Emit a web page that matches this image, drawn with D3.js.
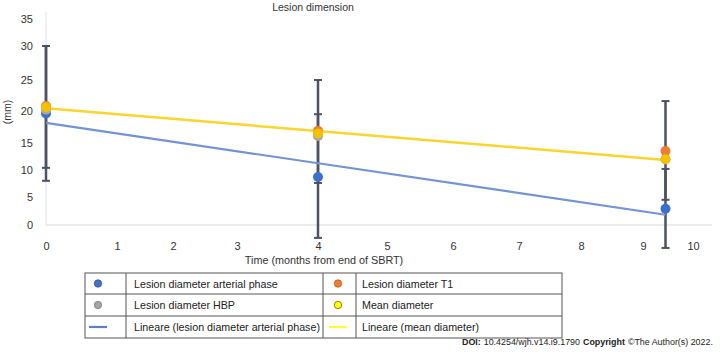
<!DOCTYPE html>
<html><head><meta charset="utf-8">
<script src="https://cdn.jsdelivr.net/npm/d3@7/dist/d3.min.js"></script>
<style>
body{margin:0;background:#fff;}
text{font-family:"Liberation Sans",Arial,sans-serif;}
</style></head>
<body>
<svg id="chart" width="720" height="357"></svg>
<script>
// ---- data ----
const months = [0, 4, 9.45];
const arterial = [19.6, 8.7, 2.9];
const t1 = [20.8, 16.9, 13.5];
const hbp = [20.2, 16.1, 12.0];
const meanDiam = [20.6, 16.5, 12.0];
const arterialErrLow = [8.0, -2.3, -4.1];
const arterialErrHigh = [30.0, 19.5, 10.2];
const t1ErrLow = [10.4, 7.6, 4.5];
const t1ErrHigh = [30.0, 25.0, 21.6];
const xTicks = [0,1,2,3,4,5,6,7,8,9,10];
const yTicks = [0,5,10,15,20,25,30,35];
const legendItems = [
  ["Lesion diameter arterial phase","dot","#4472c4","#2f5597"],
  ["Lesion diameter T1","dot","#ed7d31","#c55a11"],
  ["Lesion diameter HBP","dot","#a5a5a5","#7f7f7f"],
  ["Mean diameter","dot","#ffff00","#7f6000"],
  ["Lineare (lesion diameter arterial phase)","line","#5b7fcc"],
  ["Lineare (mean diameter)","line","#ffff33"]
];
const doiParts = [["DOI:","bold"],["10.4254/wjh.v14.i9.1790","normal"],["Copyright","bold"],["©The Author(s) 2022.","normal"]];

const svg = d3.select("#chart");
const x = d3.scaleLinear().domain(xTicks).range([46,117,173,237,318,387,453,519,581,643,693]);
const y = d3.scaleLinear().domain(yTicks).range([225,197,170,143,111,80,46,19]);

// title
svg.append("text").attr("x",313).attr("y",11).attr("text-anchor","middle")
  .attr("font-size",10.5).attr("fill","#333").text("Lesion dimension");

// axes lines
svg.append("line").attr("x1",46).attr("x2",46).attr("y1",12).attr("y2",y(0))
  .attr("stroke","#dfe4ee").attr("stroke-width",1.2);
svg.append("line").attr("x1",46).attr("x2",712).attr("y1",y(0)).attr("y2",y(0))
  .attr("stroke","#d9d9d9").attr("stroke-width",1);

const xa = svg.append("g").attr("transform",`translate(0,${y(0)})`)
  .call(d3.axisBottom(x).tickValues(xTicks).tickSize(0).tickPadding(17).tickFormat(d3.format("d")));
xa.select(".domain").remove();
xa.selectAll("text").attr("font-size",11).attr("fill","#333").style("font-family","Liberation Sans, Arial, sans-serif");

const ya = svg.append("g").attr("transform","translate(33,0)")
  .call(d3.axisLeft(y).tickValues(yTicks).tickSize(0).tickPadding(0));
ya.select(".domain").remove();
ya.selectAll("text").attr("font-size",11).attr("fill","#333").style("font-family","Liberation Sans, Arial, sans-serif");

svg.append("text").attr("transform","translate(11,112) rotate(-90)").attr("text-anchor","middle")
  .attr("font-size",10.5).attr("fill","#333").text("(mm)");
svg.append("text").attr("x",324).attr("y",264).attr("text-anchor","middle")
  .attr("font-size",10.8).attr("fill","#333").text("Time (months from end of SBRT)");

// error bars
function errBars(lo, hi){
  const g = svg.append("g").attr("stroke","#4d535e");
  months.forEach((m,i)=>{
    g.append("line").attr("x1",x(m)).attr("x2",x(m)).attr("y1",y(lo[i])).attr("y2",y(hi[i])).attr("stroke-width",2.5);
    [lo[i],hi[i]].forEach(v=>{
      g.append("line").attr("x1",x(m)-4).attr("x2",x(m)+4).attr("y1",y(v)).attr("y2",y(v)).attr("stroke-width",2);
    });
  });
}
errBars(arterialErrLow, arterialErrHigh);
errBars(t1ErrLow, t1ErrHigh);

// trend lines (least squares)
function trend(vals){
  const mx = d3.mean(months), my = d3.mean(vals);
  let sxy=0,sxx=0;
  months.forEach((m,i)=>{sxy+=(m-mx)*(vals[i]-my); sxx+=(m-mx)*(m-mx);});
  const b = sxy/sxx, a = my-b*mx;
  const x0 = d3.min(months), x1 = d3.max(months);
  return [[x0,a+b*x0],[x1,a+b*x1]];
}
const lineGen = d3.line().x(d=>x(d[0])).y(d=>y(d[1]));
svg.append("path").attr("d",lineGen(trend(arterial))).attr("fill","none")
  .attr("stroke","#7393d3").attr("stroke-width",2.2);
svg.append("path").attr("d",lineGen(trend(meanDiam))).attr("fill","none")
  .attr("stroke","#f9d52e").attr("stroke-width",2.5);

// points
function pts(vals,color){
  svg.append("g").selectAll("circle").data(vals).join("circle")
    .attr("cx",(d,i)=>x(months[i])).attr("cy",d=>y(d)).attr("r",5).attr("fill",color);
}
pts(arterial,"#3d6fcf");
pts(t1,"#ed7d31");
pts(hbp,"#a5a5a5");
pts(meanDiam,"#f5c000");

// legend table
const colX = [85,126,323,356,562];
const rowY = [273,294,316,338];
const lg = svg.append("g");
lg.append("rect").attr("x",colX[0]).attr("y",rowY[0]).attr("width",colX[4]-colX[0]).attr("height",rowY[3]-rowY[0])
  .attr("fill","none").attr("stroke","#555").attr("stroke-width",1);
[1,2,3].forEach(c=>lg.append("line").attr("x1",colX[c]).attr("x2",colX[c]).attr("y1",rowY[0]).attr("y2",rowY[3]).attr("stroke","#555"));
[1,2].forEach(r=>lg.append("line").attr("x1",colX[0]).attr("x2",colX[4]).attr("y1",rowY[r]).attr("y2",rowY[r]).attr("stroke","#555"));
legendItems.forEach((it,i)=>{
  const r = Math.floor(i/2), c = i%2;
  const cy = (rowY[r]+rowY[r+1])/2;
  const mx = c===0 ? 98 : 338;
  if(it[1]==="dot"){
    lg.append("circle").attr("cx",mx).attr("cy",cy).attr("r",3.7).attr("fill",it[2]).attr("stroke",it[3]).attr("stroke-width",0.8);
  } else {
    lg.append("line").attr("x1",mx-9).attr("x2",mx+9).attr("y1",cy).attr("y2",cy).attr("stroke",it[2]).attr("stroke-width",2.2);
  }
  lg.append("text").attr("x", c===0 ? 134 : 362).attr("y",cy+4).attr("font-size",10.7).attr("fill","#222").text(it[0]);
});

// DOI line: separate texts laid out one after another, sized to fit 462..713
const doiStart = 462, doiEnd = 713, gap = 3;
const doiTexts = doiParts.map(p => svg.append("text").attr("y",345).attr("font-size",10)
    .attr("font-weight",p[1]).attr("fill","#222").text(p[0]));
const natural = d3.sum(doiTexts, t => t.node().getComputedTextLength());
const fs = 10 * (doiEnd - doiStart - gap*(doiParts.length-1)) / natural;
let cx = doiStart;
doiTexts.forEach(t=>{
  t.attr("font-size",fs).attr("x",cx);
  cx += t.node().getComputedTextLength() + gap;
});
</script>
</body></html>
